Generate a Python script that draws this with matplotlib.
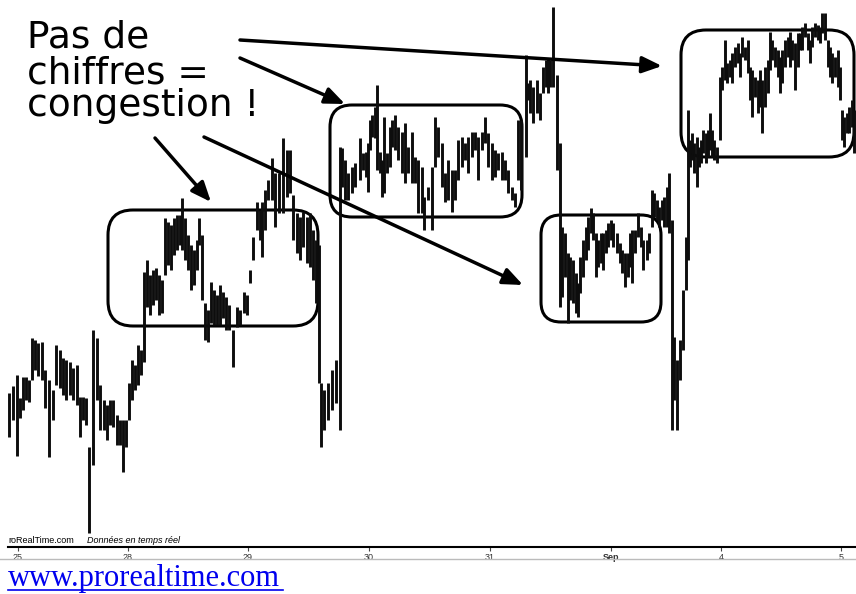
import matplotlib
matplotlib.use("Agg")
import matplotlib.pyplot as plt
import numpy as np
from matplotlib.patches import FancyBboxPatch
from matplotlib.lines import Line2D

# ---------------- data (time in chart units, price in chart units) ----------------
t = [9, 13, 17, 20, 23, 26, 29, 32, 35, 38, 42, 45, 49, 53, 56, 60, 63, 66, 70, 73,
     77, 80, 83, 86, 89, 93, 97, 100, 104, 107, 110, 113, 117, 120, 123, 126, 129, 132, 135, 138,
     141, 144,
     147, 150, 153, 156, 159, 162, 165, 168, 171, 174, 177, 180, 182, 185, 188, 191, 194, 197,
     199, 202, 205, 208, 211, 214, 217, 220, 223, 226, 229, 233, 237, 240, 244, 247, 250, 253,
     257, 260, 262, 265, 268, 272, 275, 279, 283, 287, 290, 293, 297, 300, 303, 307, 310, 313,
     316, 319, 321, 324, 328, 332, 336, 340,
     342, 345, 348, 352, 355, 360, 363, 366, 368, 370, 372, 375, 377, 380, 382, 384, 387, 390,
     392, 395, 398, 402, 405, 408, 412, 415, 418, 422, 424, 428, 432, 435, 438, 442, 445, 448,
     452, 455, 458, 462, 465, 468, 472, 475, 478, 482, 485, 488, 492, 495, 498, 502, 505, 508,
     512, 515, 518, 521,
     526, 528, 530, 533, 537, 540, 543, 546, 548, 550, 553, 557, 560, 562, 565, 568, 570, 573,
     576, 578, 580, 583, 586, 588, 591, 593, 596, 598, 601, 603, 606, 608, 611, 613, 617, 620,
     622, 625, 628, 630, 632, 635, 638, 641, 643, 647, 649, 652, 654, 657, 659, 662, 664, 667,
     669, 672, 674, 677, 680, 683, 686, 688,
     690, 692, 694, 697, 699, 701, 703, 706, 708, 710, 712, 714, 717, 720, 722, 725, 727, 730,
     732, 735, 738, 740, 742, 745, 748, 750, 752, 755, 758, 760, 762, 765, 768, 770, 772, 775,
     778, 780, 782, 785, 788, 790, 792, 795, 798, 800, 802, 805, 808, 810, 812, 815, 818, 820,
     822, 825, 828, 830, 832, 835, 838, 840, 842, 844, 847, 849, 852, 854]

high = [154, 161, 172, 149, 170, 170, 167, 209, 207, 204, 205, 177, 167, 157, 202, 197, 189, 187, 185, 179,
        182, 150, 150, 149, 100, 217, 209, 162, 147, 142, 147, 147, 132, 127, 127, 127, 164, 187, 182, 202,
        197, 275,
        287, 272, 277, 279, 272, 267, 329, 325, 322, 329, 332, 332, 349, 329, 312, 302, 297, 307,
        329, 312, 244, 237, 265, 257, 252, 262, 255, 250, 242, 217, 240, 237, 255, 252, 277, 310,
        345, 337, 345, 357, 367, 389, 374, 374, 409, 397, 397, 352, 334, 330, 335, 330, 334, 317,
        307, 302, 164, 157, 164, 177, 187, 400,
        399, 387, 374, 380, 384, 409, 394, 395, 404, 427, 432, 440, 462, 395, 387, 430, 394, 420,
        427, 432, 420, 415, 424, 400, 415, 390, 387, 380, 350, 360, 380, 430, 420, 404, 374, 387,
        377, 377, 407, 410, 404, 410, 415, 415, 410, 415, 430, 414, 404, 397, 394, 395, 387, 377,
        360, 354, 427, 427,
        492, 464, 467, 460, 467, 454, 480, 487, 489, 487, 540, 472, 404, 320, 314, 294, 290, 287,
        274, 264, 290, 307, 320, 330, 339, 334, 314, 307, 314, 314, 317, 324, 327, 324, 314, 304,
        297, 294, 294, 314, 317, 317, 334, 320, 307, 307, 314, 357, 354, 347, 340, 347, 350, 360,
        374, 327, 210, 187, 207, 257, 310, 437,
        407, 414, 404, 410, 400, 407, 417, 414, 417, 434, 417, 407, 400, 470, 480, 507, 484, 487,
        494, 500, 504, 494, 510, 500, 507, 480, 477, 470, 467, 477, 467, 480, 487, 515, 507, 500,
        497, 490, 497, 507, 510, 515, 507, 504, 514, 514, 520, 524, 514, 507, 520, 524, 522, 520,
        534, 534, 507, 500, 494, 490, 497, 480, 437, 430, 434, 440, 447, 437]

low = [110, 127, 91, 129, 137, 147, 145, 167, 177, 171, 167, 139, 90, 127, 162, 159, 152, 147, 152, 147,
       142, 110, 127, 122, 14, 82, 147, 117, 117, 107, 122, 120, 102, 102, 75, 100, 127, 147, 157, 162,
       172, 185,
       240, 232, 242, 247, 232, 234, 272, 282, 277, 292, 297, 302, 297, 287, 277, 257, 262, 277,
       302, 247, 207, 205, 224, 222, 222, 222, 229, 217, 217, 180, 220, 222, 234, 232, 264, 287,
       317, 307, 290, 317, 347, 347, 320, 334, 334, 350, 354, 307, 294, 287, 300, 284, 280, 267,
       244, 164, 100, 117, 127, 137, 144, 117,
       360, 347, 347, 354, 360, 367, 377, 370, 355, 397, 410, 409, 377, 374, 350, 354, 374, 380,
       400, 397, 387, 374, 364, 374, 364, 364, 334, 334, 317, 347, 317, 380, 390, 360, 345, 347,
       335, 347, 367, 380, 387, 374, 390, 397, 367, 397, 404, 380, 367, 370, 377, 367, 367, 354,
       347, 340, 367, 357,
       390, 447, 434, 424, 434, 427, 454, 460, 454, 460, 460, 377, 240, 250, 270, 224, 247, 244,
       234, 230, 254, 270, 287, 297, 314, 307, 270, 280, 284, 277, 294, 300, 307, 300, 294, 284,
       274, 260, 270, 280, 264, 294, 310, 300, 277, 287, 294, 320, 330, 327, 320, 327, 320, 320,
       314, 117, 147, 117, 167, 197, 257, 287,
       380, 387, 374, 360, 380, 384, 394, 384, 390, 397, 390, 387, 384, 407, 457, 467, 464, 470,
       464, 480, 484, 470, 490, 487, 474, 447, 430, 450, 434, 440, 414, 440, 454, 477, 487, 480,
       470, 454, 464, 480, 490, 480, 487, 457, 480, 497, 497, 510, 497, 484, 500, 510, 507, 504,
       514, 507, 480, 470, 464, 470, 460, 447, 407, 400, 414, 414, 420, 394]

tick_pos = [18, 128, 248, 369, 490, 611, 721, 841]
tick_lab = ["25", "28", "29", "30", "31", "Sep", "4", "5"]

# ---------------- figure ----------------
W, H = 856, 594
fig = plt.figure(figsize=(W / 100, H / 100), dpi=100)
fig.patch.set_facecolor("white")
ax = fig.add_axes([8 / W, 47 / H, 848 / W, 547 / H])
ax.set_xlim(8, 856)
ax.set_ylim(0, 547)
for s in ["top", "left", "right"]:
    ax.spines[s].set_visible(False)
ax.spines["bottom"].set_linewidth(1.5)
ax.set_yticks([])
ax.set_xticks(tick_pos)
ax.set_xticklabels(tick_lab, fontsize=6.5, color="#333333", family="Liberation Sans")
ax.tick_params(axis="x", direction="out", length=3, width=0.8, pad=1.5, color="#444444")
for lab in ax.get_xticklabels():
    if lab.get_text() == "Sep":
        lab.set_fontweight("bold")

ax.vlines(t, low, high, color="#0d0d0d", linewidth=2.1)

# rounded congestion boxes
boxes = [(108, 221, 210, 116, 25), (330, 330, 192, 112, 22),
         (541, 225, 120, 107, 20), (681, 390, 173, 127, 25)]
for (x0, y0, w, h, r) in boxes:
    ax.add_patch(FancyBboxPatch((x0, y0), w, h,
                                boxstyle=f"round,pad=0,rounding_size={r}",
                                fill=False, ec="black", lw=2.2, clip_on=False))

# annotation text
txt_kw = dict(fontsize=27, family="DejaVu Sans", color="black", va="baseline", ha="left")
ax.text(27, 547 - 47, "Pas de", **txt_kw)
ax.text(27, 547 - 83, "chiffres =", **txt_kw)
ax.text(27, 547 - 116, "congestion !", **txt_kw)

arrows = [((155, 409), (211, 345)), ((240, 489), (345, 443)),
          ((204, 410), (523, 262)), ((240, 507), (662, 481))]
for start, end in arrows:
    ax.annotate("", xy=end, xytext=start,
                arrowprops=dict(arrowstyle="-|>,head_length=0.6,head_width=0.25",
                                mutation_scale=20, lw=2.5, color="black",
                                shrinkA=0, shrinkB=0))

# watermark
ax.text(8, 4, "roRealTime.com", fontsize=6.5, family="Liberation Sans", va="baseline")
ax.text(87, 4, "Données en temps réel", fontsize=6.5, family="Liberation Sans",
        style="italic", va="baseline")

# lower grey line
fig.add_artist(Line2D([0, 1], [(H - 559) / H] * 2, color="#bbbbbb", lw=1))

# link text
fig.text(8 / W, (H - 586) / H, "www.prorealtime.com", fontsize=22,
         family="Liberation Serif", color="#0000ee", va="baseline")
fig.add_artist(Line2D([8 / W, 283 / W], [(H - 589.5) / H] * 2, color="#0000ee", lw=1.2))

fig.savefig("out.png", dpi=100)
